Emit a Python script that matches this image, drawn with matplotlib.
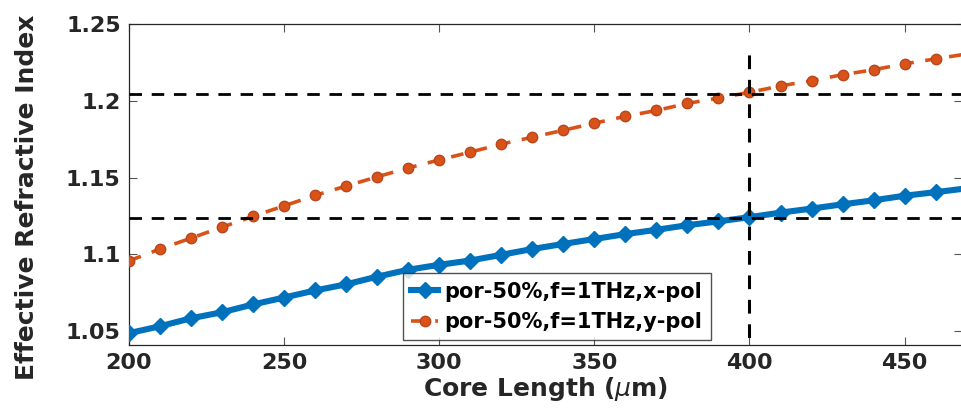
import numpy as np
import matplotlib
matplotlib.use("Agg")
import matplotlib.pyplot as plt

# core length sweep (um)
core_len = [200, 210, 220, 230, 240, 250, 260, 270, 280, 290, 300, 310, 320, 330,
            340, 350, 360, 370, 380, 390, 400, 410, 420, 430, 440, 450, 460, 470]
n_xpol = [1.0487, 1.0532, 1.0584, 1.0623, 1.0674, 1.0719, 1.0765, 1.0805, 1.0855,
          1.0900, 1.0932, 1.0960, 1.0997, 1.1035, 1.1068, 1.1100, 1.1132, 1.1160,
          1.1190, 1.1215, 1.1242, 1.1272, 1.1298, 1.1326, 1.1352, 1.1382, 1.1405,
          1.1430]
n_ypol = [1.0958, 1.1035, 1.1106, 1.1177, 1.1248, 1.1316, 1.1384, 1.1445, 1.1505,
          1.1563, 1.1615, 1.1666, 1.1718, 1.1763, 1.1808, 1.1854, 1.1899, 1.1937,
          1.1983, 1.2018, 1.2055, 1.2097, 1.2131, 1.2170, 1.2202, 1.2241, 1.2273,
          1.2305]
ref_x = 400
ref_levels = [1.2043, 1.1234]
ref_vline_top = 1.2337

y_ticks = [1.05, 1.1, 1.15, 1.2, 1.25]
y_ticklabels = ["1.05", "1.1", "1.15", "1.2", "1.25"]
x_ticks = [200, 250, 300, 350, 400, 450]

TXT = "#262626"
BLUE = "#0072BD"
ORANGE = "#D95319"

fig = plt.figure(figsize=(9.62, 4.16), dpi=100)
ax = fig.add_axes([0.1341, 0.1707, 0.8659, 0.7716])

ax.plot(core_len, n_xpol, "-D", color=BLUE, lw=4.4, ms=8, mec=BLUE,
        label="por-50%,f=1THz,x-pol", zorder=3)
ax.plot(core_len, n_ypol, "o", color=ORANGE, ls=(0, (3.5, 3.2)), lw=2.6, ms=7.5,
        mec="#B8461C", mew=1.0, label="por-50%,f=1THz,y-pol", zorder=3)

for lvl in ref_levels:
    ax.axhline(lvl, color="black", lw=2.0, ls=(0, (4.5, 3.5)), zorder=4)
ax.plot([ref_x, ref_x], [1.03, ref_vline_top], color="black", lw=2.2,
        ls=(0, (4.5, 3.5)), zorder=4)

ax.set_xlim(200, 468.5)
ax.set_ylim(1.041, 1.249)
ax.set_xticks(x_ticks)
ax.set_yticks(y_ticks)
ax.set_yticklabels(y_ticklabels)

ax.tick_params(direction="in", length=6, width=0.8, color="#555555",
               top=True, right=True, labelsize=16, labelcolor=TXT, pad=6)
for lab in ax.get_xticklabels() + ax.get_yticklabels():
    lab.set_fontweight("bold")
for sp in ax.spines.values():
    sp.set_color(TXT)
    sp.set_linewidth(0.9)

ax.set_xlabel("Core Length ($\\mu$m)", fontsize=18, fontweight="bold", color=TXT,
              labelpad=1)
ax.set_ylabel("Effective Refractive Index", fontsize=18, fontweight="bold",
              color=TXT)
ax.yaxis.set_label_coords(-0.108, 0.46)

leg = ax.legend(loc="lower left", bbox_to_anchor=(0.329, 0.014), borderaxespad=0,
                frameon=True, fancybox=False, edgecolor="#262626",
                prop={"weight": "bold", "size": 15}, handlelength=1.3,
                handletextpad=0.3, borderpad=0.4, labelspacing=0.5)
leg.get_frame().set_linewidth(1.0)
leg.set_zorder(5)

fig.savefig("out.png", dpi=100)
